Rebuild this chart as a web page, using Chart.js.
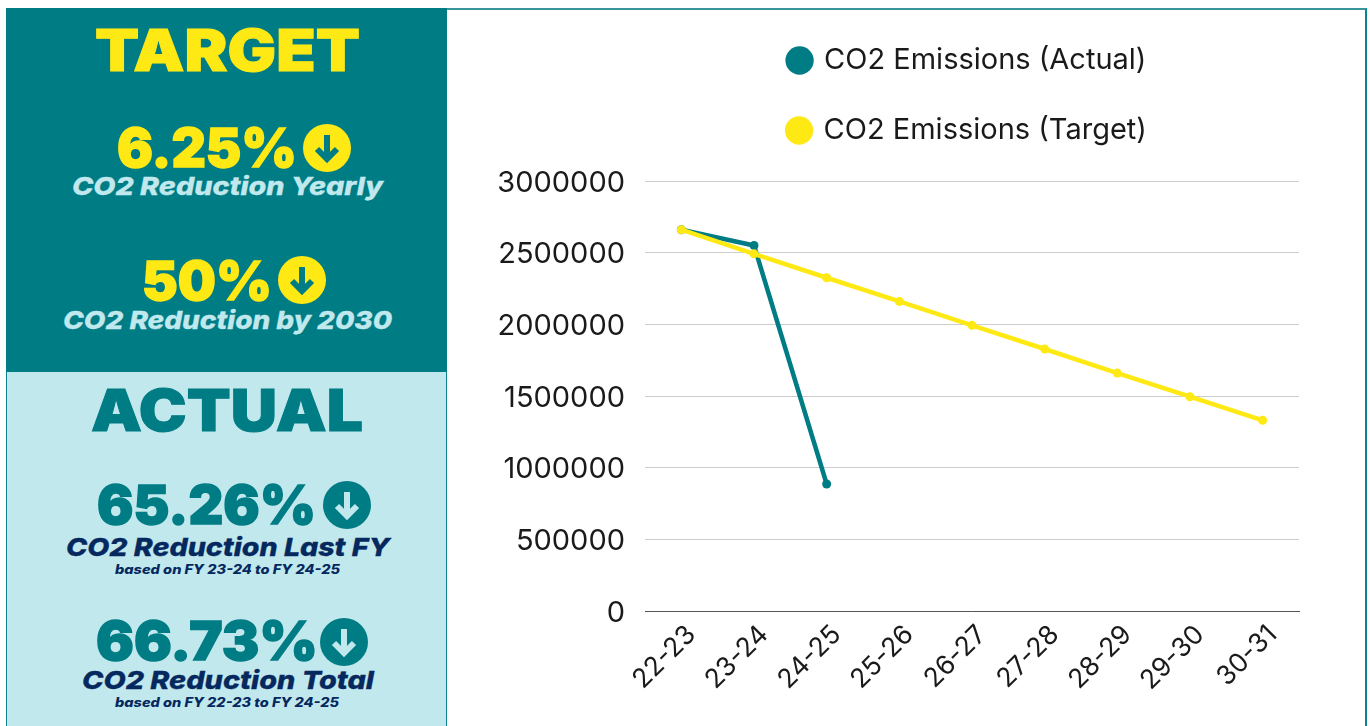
<!DOCTYPE html>
<html>
<head>
<meta charset="utf-8">
<title>CO2 Emissions</title>
<script src="https://cdn.jsdelivr.net/npm/chart.js@4"></script>
<style>
html, body { margin: 0; padding: 0; background: #fff; }
body { width: 1370px; height: 726px; position: relative; overflow: hidden; font-family: Inter, "Liberation Sans", sans-serif; }
.panel { position: absolute; box-sizing: border-box; }
#frame { left: 447px; top: 8px; width: 920px; height: 718px; border-top: 2px solid #3b959c; border-right: 2px solid #0a858d; }
#target { left: 6px; top: 8px; width: 441px; height: 364px; background: #007c85; }
#actual { left: 6px; top: 372px; width: 441px; height: 354px; background: #c1e8ed; border: 1px solid #0a858d; border-top: 0; border-bottom: 0; }
.line { position: absolute; white-space: nowrap; line-height: 1; transform-origin: 0 50%; }
.head { font-weight: 900; font-size: 58px; -webkit-text-stroke: 1px currentColor; }
.big { font-weight: 900; font-size: 54px; -webkit-text-stroke: 1.4px currentColor; }
.sub { font-weight: 800; font-style: italic; font-size: 25px; -webkit-text-stroke: 0.3px currentColor; }
.small { font-weight: 800; font-style: italic; font-size: 12.5px; }
.yellow { color: #ffe914; }
.teal { color: #007c85; }
.pale { color: #c1e8ed; }
.navy { color: #05285e; }
.icon { position: absolute; width: 48px; height: 48px; }
#chart { position: absolute; left: 448px; top: 4px; }
</style>
</head>
<body>
<div class="panel" id="frame"></div>
<div class="panel" id="target"></div>
<div class="panel" id="actual"></div>

<div class="line head yellow" data-x="95" data-w="265" data-y="50">TARGET</div>
<div class="line big yellow" data-x="117" data-w="180" data-y="148">6.25%</div>
<svg class="icon" style="left:303px;top:124px" viewBox="0 0 48 48"><circle cx="24" cy="24" r="24" fill="#ffe914"/><path d="M24 11V34M14 25L24 35L34 25" fill="none" stroke="#007c85" stroke-width="6"/></svg>
<div class="line sub pale" data-x="72" data-w="311" data-y="186">CO2 Reduction Yearly</div>
<div class="line big yellow" data-x="142" data-w="130" data-y="281">50%</div>
<svg class="icon" style="left:278px;top:256px" viewBox="0 0 48 48"><circle cx="24" cy="24" r="24" fill="#ffe914"/><path d="M24 11V34M14 25L24 35L34 25" fill="none" stroke="#007c85" stroke-width="6"/></svg>
<div class="line sub pale" data-x="63" data-w="329" data-y="320">CO2 Reduction by 2030</div>

<div class="line head teal" data-x="91" data-w="272" data-y="410">ACTUAL</div>
<div class="line big teal" data-x="97" data-w="219" data-y="505">65.26%</div>
<svg class="icon" style="left:323px;top:481px" viewBox="0 0 48 48"><circle cx="24" cy="24" r="24" fill="#007c85"/><path d="M24 11V34M14 25L24 35L34 25" fill="none" stroke="#c1e8ed" stroke-width="6"/></svg>
<div class="line sub navy" data-x="66" data-w="324" data-y="547">CO2 Reduction Last FY</div>
<div class="line small navy" data-x="115" data-w="225" data-y="570">based on FY 23-24 to FY 24-25</div>
<div class="line big teal" data-x="96" data-w="222" data-y="641">66.73%</div>
<svg class="icon" style="left:320px;top:618px" viewBox="0 0 48 48"><circle cx="24" cy="24" r="24" fill="#007c85"/><path d="M24 11V34M14 25L24 35L34 25" fill="none" stroke="#c1e8ed" stroke-width="6"/></svg>
<div class="line sub navy" data-x="82" data-w="292" data-y="680">CO2 Reduction Total</div>
<div class="line small navy" data-x="115" data-w="224" data-y="703">based on FY 22-23 to FY 24-25</div>

<canvas id="chart" width="917" height="722"></canvas>

<script>
const years = ['22-23','23-24','24-25','25-26','26-27','27-28','28-29','29-30','30-31']
const co2Actual = [2660000, 2550000, 886000, null, null, null, null, null, null]
const co2Target = [2660000, 2492000, 2325000, 2160000, 1993000, 1828000, 1660000, 1495000, 1330000]
const yTickStep = 500000
const yTickMax = 3000000

// stretch the headline text to the width it has in the picture, Montserrat is not installed
document.querySelectorAll('.line').forEach(el => {
    const box = el.getBoundingClientRect()
    el.style.left = el.dataset.x + 'px'
    el.style.top = (el.dataset.y - box.height / 2) + 'px'
    el.style.transform = `scaleX(${el.dataset.w / box.width})`
})

// chart.js only wraps the legend when the box is too narrow, so give it a narrow box
const twoRowLegend = {
    id: 'twoRowLegend',
    beforeLayout(chart){
        const legend = chart.legend
        if(legend.twoRows) return
        const update = legend.update
        legend.update = function(w, h, margins){
            update.call(this, 430, h, margins)
            this.height = 177
        }
        legend.twoRows = true
    },
    afterLayout(chart){
        const legend = chart.legend
        legend.left -= 4
        legend.right -= 4
        legend.top += 1
    }
}

new Chart(document.getElementById('chart').getContext('2d'), {
    type: 'line',
    data: {
        labels: years,
        datasets: [
            { label: 'CO2 Emissions (Actual)', data: co2Actual, borderColor: '#007c85', backgroundColor: '#007c85', order: 2 },
            { label: 'CO2 Emissions (Target)', data: co2Target, borderColor: '#ffe914', backgroundColor: '#ffe914', order: 1 },
        ].map(ds => ({ ...ds, fill: false, tension: 0, borderWidth: 4.5, pointRadius: 4.5, pointBorderWidth: 0 }))
    },
    options: {
        responsive: false,
        animation: false,
        layout: { padding: { right: 66 } },
        plugins: {
            tooltip: { enabled: false },
            legend: {
                display: true,
                position: 'top',
                fullSize: false,
                labels: {
                    sort: (a, b) => a.datasetIndex - b.datasetIndex,
                    usePointStyle: true, pointStyle: 'circle', boxWidth: 20, boxHeight: 20, padding: 41,
                    color: '#1a1a1a', font: { family: 'Inter', size: 29 }
                }
            }
        },
        scales: {
            x: {
                offset: true,
                afterFit(axis){ axis.height = 115 },
                grid: { display: false },
                border: { display: true, color: '#555', width: 1 },
                ticks: { color: '#1a1a1a', font: { family: 'Inter', size: 26.5 }, minRotation: 45, maxRotation: 45, autoSkip: false, padding: 0, labelOffset: 10 }
            },
            y: {
                min: 0,
                max: yTickMax,
                afterFit(axis){ axis.width = 197 },
                grid: { color: '#cccccc', lineWidth: 1, drawTicks: false },
                border: { display: false },
                ticks: { stepSize: yTickStep, color: '#1a1a1a', font: { family: 'Inter', size: 29 }, padding: 20, labelOffset: 2, callback: v => v }
            }
        }
    },
    plugins: [twoRowLegend]
})
</script>
</body>
</html>
